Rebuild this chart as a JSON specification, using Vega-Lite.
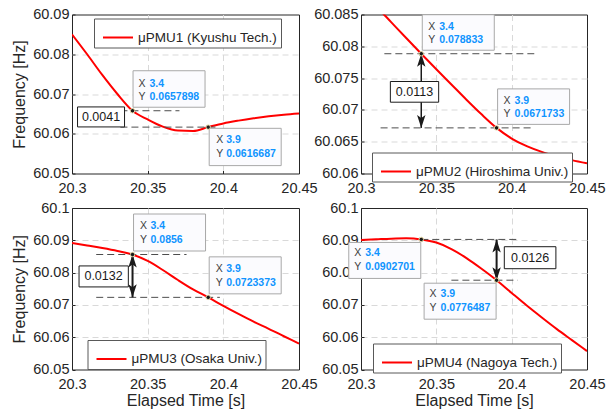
{
  "$schema": "https://vega.github.io/schema/vega-lite/v6.json",
  "padding": {"left": 11, "top": 5.5, "right": 5, "bottom": 5},
  "bounds": "flush",
  "columns": 2,
  "spacing": {"row": 34.5, "column": 62},
  "resolve": {"scale": {"color": "independent"}, "legend": {"color": "independent"}},
  "config": {
    "font": "Liberation Sans",
    "view": {"stroke": "#262626", "strokeWidth": 1},
    "axis": {
      "grid": true, "gridColor": "#d9d9d9", "gridDash": [6, 4], "gridWidth": 1,
      "domain": false, "ticks": true, "tickColor": "#262626", "tickSize": -3,
      "labelFont": "Liberation Sans", "labelFontSize": 14.5, "labelColor": "#262626",
      "labelFlush": false, "labelOverlap": false, "labelSeparation": 0, "labelBound": false,
      "titleFont": "Liberation Sans", "titleFontSize": 16, "titleFontWeight": "normal",
      "titleColor": "#262626"
    },
    "axisQuantitative": {"labelOverlap": false},
    "axisX": {"labelPadding": 11, "titlePadding": 1},
    "axisY": {"labelPadding": 6, "titlePadding": 5, "labelOverlap": false},
    "legend": {
      "orient": "none", "symbolType": "stroke", "symbolStrokeWidth": 2, "symbolSize": 900,
      "labelFont": "Liberation Sans", "labelFontSize": 13.5, "labelColor": "#262626",
      "labelOffset": 4, "symbolOffset": 5, "padding": 3,
      "strokeColor": "#595959", "fillColor": "#ffffff"
    }
  },
  "datasets": {
    "pmu1": [
      {"t": 20.30, "f": 60.0850}, {"t": 20.31, "f": 60.0800}, {"t": 20.32, "f": 60.0748},
      {"t": 20.33, "f": 60.0700}, {"t": 20.34, "f": 60.0657898}, {"t": 20.35, "f": 60.0636},
      {"t": 20.36, "f": 60.0618}, {"t": 20.37, "f": 60.0608}, {"t": 20.38, "f": 60.0607},
      {"t": 20.39, "f": 60.0616687}, {"t": 20.40, "f": 60.0626}, {"t": 20.41, "f": 60.0633},
      {"t": 20.42, "f": 60.0639}, {"t": 20.43, "f": 60.0644}, {"t": 20.44, "f": 60.0648},
      {"t": 20.45, "f": 60.0651}
    ],
    "pmu2": [
      {"t": 20.30, "f": 60.0887}, {"t": 20.31, "f": 60.0863}, {"t": 20.32, "f": 60.0838},
      {"t": 20.33, "f": 60.0813}, {"t": 20.34, "f": 60.078833}, {"t": 20.35, "f": 60.0764},
      {"t": 20.36, "f": 60.0740}, {"t": 20.37, "f": 60.0716}, {"t": 20.38, "f": 60.0693},
      {"t": 20.39, "f": 60.0671733}, {"t": 20.40, "f": 60.0655}, {"t": 20.41, "f": 60.0643},
      {"t": 20.42, "f": 60.0634}, {"t": 20.43, "f": 60.0627}, {"t": 20.44, "f": 60.0621},
      {"t": 20.45, "f": 60.0616}
    ],
    "pmu3": [
      {"t": 20.30, "f": 60.0892}, {"t": 20.31, "f": 60.0884}, {"t": 20.32, "f": 60.0876},
      {"t": 20.33, "f": 60.0867}, {"t": 20.34, "f": 60.0856}, {"t": 20.35, "f": 60.0836},
      {"t": 20.36, "f": 60.0808}, {"t": 20.37, "f": 60.0777}, {"t": 20.38, "f": 60.0748},
      {"t": 20.39, "f": 60.0723373}, {"t": 20.40, "f": 60.0697}, {"t": 20.41, "f": 60.0672},
      {"t": 20.42, "f": 60.0648}, {"t": 20.43, "f": 60.0626}, {"t": 20.44, "f": 60.0603},
      {"t": 20.45, "f": 60.0580}
    ],
    "pmu4": [
      {"t": 20.30, "f": 60.0901}, {"t": 20.31, "f": 60.0903}, {"t": 20.32, "f": 60.0905},
      {"t": 20.33, "f": 60.0906}, {"t": 20.34, "f": 60.0902701}, {"t": 20.35, "f": 60.0893},
      {"t": 20.36, "f": 60.0873}, {"t": 20.37, "f": 60.0845}, {"t": 20.38, "f": 60.0812},
      {"t": 20.39, "f": 60.0776487}, {"t": 20.40, "f": 60.0737}, {"t": 20.41, "f": 60.0698},
      {"t": 20.42, "f": 60.0661}, {"t": 20.43, "f": 60.0625}, {"t": 20.44, "f": 60.0591},
      {"t": 20.45, "f": 60.0557}
    ],
    "tips": [
      {"p": 1, "t": 20.34, "f": 60.0657898, "xs": "3.4", "ys": "0.0657898"},
      {"p": 1, "t": 20.39, "f": 60.0616687, "xs": "3.9", "ys": "0.0616687"},
      {"p": 2, "t": 20.34, "f": 60.078833, "xs": "3.4", "ys": "0.078833"},
      {"p": 2, "t": 20.39, "f": 60.0671733, "xs": "3.9", "ys": "0.0671733"},
      {"p": 3, "t": 20.34, "f": 60.0856, "xs": "3.4", "ys": "0.0856"},
      {"p": 3, "t": 20.39, "f": 60.0723373, "xs": "3.9", "ys": "0.0723373"},
      {"p": 4, "t": 20.34, "f": 60.0902701, "xs": "3.4", "ys": "0.0902701"},
      {"p": 4, "t": 20.39, "f": 60.0776487, "xs": "3.9", "ys": "0.0776487"}
    ],
    "dims": [
      {"p": 1, "t0": 20.332, "t1": 20.371, "f": 60.0657898},
      {"p": 1, "t0": 20.332, "t1": 20.396, "f": 60.0616687},
      {"p": 2, "t0": 20.3155, "t1": 20.415, "f": 60.078833},
      {"p": 2, "t0": 20.313, "t1": 20.4126, "f": 60.0671733},
      {"p": 3, "t0": 20.316, "t1": 20.3757, "f": 60.0856},
      {"p": 3, "t0": 20.316, "t1": 20.3977, "f": 60.0723373},
      {"p": 4, "t0": 20.34, "t1": 20.4053, "f": 60.0902701},
      {"p": 4, "t0": 20.36, "t1": 20.404, "f": 60.0776487}
    ],
    "gaps": [
      {"p": 1, "t": 20.34, "hi": 60.0657898, "lo": 60.0616687, "d": "0.0041"},
      {"p": 2, "t": 20.34, "hi": 60.078833, "lo": 60.0671733, "d": "0.0113"},
      {"p": 3, "t": 20.34, "hi": 60.0856, "lo": 60.0723373, "d": "0.0132"},
      {"p": 4, "t": 20.39, "hi": 60.0902701, "lo": 60.0776487, "d": "0.0126"}
    ]
  },
  "concat": [
    {
      "width": 227, "height": 159,
      "layer": [
        {
          "data": {"name": "pmu1"},
          "mark": {"type": "line", "color": "#ff0000", "strokeWidth": 2, "interpolate": "monotone", "clip": true},
          "encoding": {
            "x": {"field": "t", "type": "quantitative", "scale": {"domain": [20.3, 20.45], "nice": false, "zero": false},
                  "axis": {"title": null, "values": [20.3, 20.35, 20.4, 20.45], "format": "~g", "labelOverlap": false,
                           "gridOpacity": {"condition": {"test": "datum.value < 20.301 || datum.value > 20.449", "value": 0}, "value": 1}}},
            "y": {"field": "f", "type": "quantitative", "scale": {"domain": [60.05, 60.09], "nice": false, "zero": false},
                  "axis": {"title": "Frequency [Hz]", "values": [60.05, 60.06, 60.07, 60.08, 60.09], "format": "~g", "labelOverlap": false, "tickCount": 5,
                           "gridOpacity": {"condition": {"test": "datum.value < 60.0501 || datum.value > 60.0899", "value": 0}, "value": 1}}},
            "color": {"datum": "μPMU1 (Kyushu Tech.)", "type": "nominal", "scale": {"range": ["#ff0000"]},
                      "legend": {"title": null, "legendX": 22, "legendY": 4}}
          }
        },
        {
          "data": {"name": "dims"}, "transform": [{"filter": "datum.p == 1"}],
          "mark": {"type": "rule", "stroke": "#4d4d4d", "strokeDash": [7, 4], "strokeWidth": 1},
          "encoding": {"x": {"field": "t0", "type": "quantitative"}, "x2": {"field": "t1"}, "y": {"field": "f", "type": "quantitative"}}
        },
        {
          "data": {"name": "gaps"}, "transform": [{"filter": "datum.p == 1"}, {"calculate": "(datum.hi + datum.lo) / 2", "as": "f"}],
          "mark": {"type": "point", "shape": "M-5.5,-1.2L-0.8,-1.2L-0.8,0.8L-5.5,0.8Z", "size": 400, "filled": true, "fill": "#ffffff", "stroke": "#1a1a1a", "strokeWidth": 1, "opacity": 1},
          "encoding": {"x": {"field": "t", "type": "quantitative"}, "y": {"field": "f", "type": "quantitative"}}
        },
        {
          "data": {"name": "gaps"}, "transform": [{"filter": "datum.p == 1"}, {"calculate": "(datum.hi + datum.lo) / 2", "as": "f"}],
          "mark": {"type": "text", "align": "center", "baseline": "middle", "dx": -31.5, "dy": -2, "fontSize": 12.5, "color": "#1a1a1a"},
          "encoding": {"x": {"field": "t", "type": "quantitative"}, "y": {"field": "f", "type": "quantitative"}, "text": {"field": "d"}}
        },
        {
          "data": {"name": "tips"}, "transform": [{"filter": "datum.p == 1 && datum.t < 20.36"}],
          "mark": {"type": "point", "shape": "M0.05,-4L7.25,-4L7.25,-0.35L0.05,-0.35Z", "size": 400, "filled": true, "fill": "#fbfbfe", "stroke": "#a8a8a8", "strokeWidth": 1, "opacity": 1},
          "encoding": {"x": {"field": "t", "type": "quantitative"}, "y": {"field": "f", "type": "quantitative"}}
        },
        {
          "data": {"name": "tips"}, "transform": [{"filter": "datum.p == 1 && datum.t < 20.36"}],
          "mark": {"type": "text", "text": "X", "align": "left", "baseline": "middle", "dx": 6, "dy": -27, "fontSize": 10.5, "color": "#404040"},
          "encoding": {"x": {"field": "t", "type": "quantitative"}, "y": {"field": "f", "type": "quantitative"}}
        },
        {
          "data": {"name": "tips"}, "transform": [{"filter": "datum.p == 1 && datum.t < 20.36"}],
          "mark": {"type": "text", "text": "Y", "align": "left", "baseline": "middle", "dx": 6, "dy": -13.5, "fontSize": 10.5, "color": "#404040"},
          "encoding": {"x": {"field": "t", "type": "quantitative"}, "y": {"field": "f", "type": "quantitative"}}
        },
        {
          "data": {"name": "tips"}, "transform": [{"filter": "datum.p == 1 && datum.t < 20.36"}],
          "mark": {"type": "text", "align": "left", "baseline": "middle", "dx": 17, "dy": -27, "fontSize": 10.5, "fontWeight": "bold", "color": "#0f94ff"},
          "encoding": {"x": {"field": "t", "type": "quantitative"}, "y": {"field": "f", "type": "quantitative"}, "text": {"field": "xs"}}
        },
        {
          "data": {"name": "tips"}, "transform": [{"filter": "datum.p == 1 && datum.t < 20.36"}],
          "mark": {"type": "text", "align": "left", "baseline": "middle", "dx": 17, "dy": -13.5, "fontSize": 10.5, "fontWeight": "bold", "color": "#0f94ff"},
          "encoding": {"x": {"field": "t", "type": "quantitative"}, "y": {"field": "f", "type": "quantitative"}, "text": {"field": "ys"}}
        },
        {
          "data": {"name": "tips"}, "transform": [{"filter": "datum.p == 1 && datum.t > 20.36"}],
          "mark": {"type": "point", "shape": "M0.1,0.12L7.3,0.12L7.3,3.85L0.1,3.85Z", "size": 400, "filled": true, "fill": "#fbfbfe", "stroke": "#a8a8a8", "strokeWidth": 1, "opacity": 1},
          "encoding": {"x": {"field": "t", "type": "quantitative"}, "y": {"field": "f", "type": "quantitative"}}
        },
        {
          "data": {"name": "tips"}, "transform": [{"filter": "datum.p == 1 && datum.t > 20.36"}],
          "mark": {"type": "text", "text": "X", "align": "left", "baseline": "middle", "dx": 8, "dy": 12.5, "fontSize": 10.5, "color": "#404040"},
          "encoding": {"x": {"field": "t", "type": "quantitative"}, "y": {"field": "f", "type": "quantitative"}}
        },
        {
          "data": {"name": "tips"}, "transform": [{"filter": "datum.p == 1 && datum.t > 20.36"}],
          "mark": {"type": "text", "text": "Y", "align": "left", "baseline": "middle", "dx": 8, "dy": 27, "fontSize": 10.5, "color": "#404040"},
          "encoding": {"x": {"field": "t", "type": "quantitative"}, "y": {"field": "f", "type": "quantitative"}}
        },
        {
          "data": {"name": "tips"}, "transform": [{"filter": "datum.p == 1 && datum.t > 20.36"}],
          "mark": {"type": "text", "align": "left", "baseline": "middle", "dx": 18, "dy": 12.5, "fontSize": 10.5, "fontWeight": "bold", "color": "#0f94ff"},
          "encoding": {"x": {"field": "t", "type": "quantitative"}, "y": {"field": "f", "type": "quantitative"}, "text": {"field": "xs"}}
        },
        {
          "data": {"name": "tips"}, "transform": [{"filter": "datum.p == 1 && datum.t > 20.36"}],
          "mark": {"type": "text", "align": "left", "baseline": "middle", "dx": 18, "dy": 27, "fontSize": 10.5, "fontWeight": "bold", "color": "#0f94ff"},
          "encoding": {"x": {"field": "t", "type": "quantitative"}, "y": {"field": "f", "type": "quantitative"}, "text": {"field": "ys"}}
        },
        {
          "data": {"name": "tips"}, "transform": [{"filter": "datum.p == 1"}],
          "mark": {"type": "point", "shape": "circle", "size": 20, "filled": true, "fill": "#1a1a1a", "stroke": "#e6d9a8", "strokeWidth": 1, "opacity": 1},
          "encoding": {"x": {"field": "t", "type": "quantitative"}, "y": {"field": "f", "type": "quantitative"}}
        }
      ]
    },
    {
      "width": 226, "height": 159,
      "layer": [
        {
          "data": {"name": "pmu2"},
          "mark": {"type": "line", "color": "#ff0000", "strokeWidth": 2, "interpolate": "monotone", "clip": true},
          "encoding": {
            "x": {"field": "t", "type": "quantitative", "scale": {"domain": [20.3, 20.45], "nice": false, "zero": false},
                  "axis": {"title": null, "values": [20.3, 20.35, 20.4, 20.45], "format": "~g", "labelOverlap": false,
                           "gridOpacity": {"condition": {"test": "datum.value < 20.301 || datum.value > 20.449", "value": 0}, "value": 1}}},
            "y": {"field": "f", "type": "quantitative", "scale": {"domain": [60.06, 60.085], "nice": false, "zero": false},
                  "axis": {"title": null, "values": [60.06, 60.065, 60.07, 60.075, 60.08, 60.085], "format": "~g", "labelOverlap": false, "tickCount": 6,
                           "gridOpacity": {"condition": {"test": "datum.value < 60.0601 || datum.value > 60.0849", "value": 0}, "value": 1}}},
            "color": {"datum": "μPMU2 (Hiroshima Univ.)", "type": "nominal", "scale": {"range": ["#ff0000"]},
                      "legend": {"title": null, "legendX": 11, "legendY": 138}}
          }
        },
        {
          "data": {"name": "dims"}, "transform": [{"filter": "datum.p == 2"}],
          "mark": {"type": "rule", "stroke": "#4d4d4d", "strokeDash": [7, 4], "strokeWidth": 1},
          "encoding": {"x": {"field": "t0", "type": "quantitative"}, "x2": {"field": "t1"}, "y": {"field": "f", "type": "quantitative"}}
        },
        {
          "data": {"name": "gaps"}, "transform": [{"filter": "datum.p == 2"}],
          "mark": {"type": "rule", "stroke": "#1a1a1a", "strokeWidth": 1.5},
          "encoding": {"x": {"field": "t", "type": "quantitative"}, "y": {"field": "hi", "type": "quantitative"}, "y2": {"field": "lo"}}
        },
        {
          "data": {"name": "gaps"}, "transform": [{"filter": "datum.p == 2"}],
          "mark": {"type": "point", "shape": "M0,0L0.42,1.3L0,1.0L-0.42,1.3Z", "size": 400, "filled": true, "fill": "#1a1a1a", "strokeWidth": 0, "opacity": 1},
          "encoding": {"x": {"field": "t", "type": "quantitative"}, "y": {"field": "hi", "type": "quantitative"}}
        },
        {
          "data": {"name": "gaps"}, "transform": [{"filter": "datum.p == 2"}],
          "mark": {"type": "point", "shape": "M0,0L0.42,-1.3L0,-1.0L-0.42,-1.3Z", "size": 400, "filled": true, "fill": "#1a1a1a", "strokeWidth": 0, "opacity": 1},
          "encoding": {"x": {"field": "t", "type": "quantitative"}, "y": {"field": "lo", "type": "quantitative"}}
        },
        {
          "data": {"name": "gaps"}, "transform": [{"filter": "datum.p == 2"}, {"calculate": "(datum.hi + datum.lo) / 2", "as": "f"}],
          "mark": {"type": "point", "shape": "M-3.09,-0.93L1.74,-0.93L1.74,1.14L-3.09,1.14Z", "size": 400, "filled": true, "fill": "#ffffff", "stroke": "#1a1a1a", "strokeWidth": 1, "opacity": 1},
          "encoding": {"x": {"field": "t", "type": "quantitative"}, "y": {"field": "f", "type": "quantitative"}}
        },
        {
          "data": {"name": "gaps"}, "transform": [{"filter": "datum.p == 2"}, {"calculate": "(datum.hi + datum.lo) / 2", "as": "f"}],
          "mark": {"type": "text", "align": "center", "baseline": "middle", "dx": -6.8, "dy": 1.2, "fontSize": 12.5, "color": "#1a1a1a"},
          "encoding": {"x": {"field": "t", "type": "quantitative"}, "y": {"field": "f", "type": "quantitative"}, "text": {"field": "d"}}
        },
        {
          "data": {"name": "tips"}, "transform": [{"filter": "datum.p == 2"}],
          "mark": {"type": "point", "shape": "M0.1,-3.9L7.3,-3.9L7.3,-0.35L0.1,-0.35Z", "size": 400, "filled": true, "fill": "#fbfbfe", "stroke": "#a8a8a8", "strokeWidth": 1, "opacity": 1},
          "encoding": {"x": {"field": "t", "type": "quantitative"}, "y": {"field": "f", "type": "quantitative"}}
        },
        {
          "data": {"name": "tips"}, "transform": [{"filter": "datum.p == 2"}],
          "mark": {"type": "text", "text": "X", "align": "left", "baseline": "middle", "dx": 7, "dy": -27, "fontSize": 10.5, "color": "#404040"},
          "encoding": {"x": {"field": "t", "type": "quantitative"}, "y": {"field": "f", "type": "quantitative"}}
        },
        {
          "data": {"name": "tips"}, "transform": [{"filter": "datum.p == 2"}],
          "mark": {"type": "text", "text": "Y", "align": "left", "baseline": "middle", "dx": 7, "dy": -13.5, "fontSize": 10.5, "color": "#404040"},
          "encoding": {"x": {"field": "t", "type": "quantitative"}, "y": {"field": "f", "type": "quantitative"}}
        },
        {
          "data": {"name": "tips"}, "transform": [{"filter": "datum.p == 2"}],
          "mark": {"type": "text", "align": "left", "baseline": "middle", "dx": 18, "dy": -27, "fontSize": 10.5, "fontWeight": "bold", "color": "#0f94ff"},
          "encoding": {"x": {"field": "t", "type": "quantitative"}, "y": {"field": "f", "type": "quantitative"}, "text": {"field": "xs"}}
        },
        {
          "data": {"name": "tips"}, "transform": [{"filter": "datum.p == 2"}],
          "mark": {"type": "text", "align": "left", "baseline": "middle", "dx": 18, "dy": -13.5, "fontSize": 10.5, "fontWeight": "bold", "color": "#0f94ff"},
          "encoding": {"x": {"field": "t", "type": "quantitative"}, "y": {"field": "f", "type": "quantitative"}, "text": {"field": "ys"}}
        },
        {
          "data": {"name": "tips"}, "transform": [{"filter": "datum.p == 2"}],
          "mark": {"type": "point", "shape": "circle", "size": 20, "filled": true, "fill": "#1a1a1a", "stroke": "#e6d9a8", "strokeWidth": 1, "opacity": 1},
          "encoding": {"x": {"field": "t", "type": "quantitative"}, "y": {"field": "f", "type": "quantitative"}}
        }
      ]
    },
    {
      "width": 227, "height": 161.5,
      "layer": [
        {
          "data": {"name": "pmu3"},
          "mark": {"type": "line", "color": "#ff0000", "strokeWidth": 2, "interpolate": "monotone", "clip": true},
          "encoding": {
            "x": {"field": "t", "type": "quantitative", "scale": {"domain": [20.3, 20.45], "nice": false, "zero": false},
                  "axis": {"title": "Elapsed Time [s]", "values": [20.3, 20.35, 20.4, 20.45], "format": "~g", "labelOverlap": false,
                           "gridOpacity": {"condition": {"test": "datum.value < 20.301 || datum.value > 20.449", "value": 0}, "value": 1}}},
            "y": {"field": "f", "type": "quantitative", "scale": {"domain": [60.05, 60.1], "nice": false, "zero": false},
                  "axis": {"title": "Frequency [Hz]", "values": [60.05, 60.06, 60.07, 60.08, 60.09, 60.1], "format": "~g", "labelOverlap": false, "tickCount": 6,
                           "gridOpacity": {"condition": {"test": "datum.value < 60.0501 || datum.value > 60.0999", "value": 0}, "value": 1}}},
            "color": {"datum": "μPMU3 (Osaka Univ.)", "type": "nominal", "scale": {"range": ["#ff0000"]},
                      "legend": {"title": null, "legendX": 15.5, "legendY": 132}}
          }
        },
        {
          "data": {"name": "dims"}, "transform": [{"filter": "datum.p == 3"}],
          "mark": {"type": "rule", "stroke": "#4d4d4d", "strokeDash": [7, 4], "strokeWidth": 1},
          "encoding": {"x": {"field": "t0", "type": "quantitative"}, "x2": {"field": "t1"}, "y": {"field": "f", "type": "quantitative"}}
        },
        {
          "data": {"name": "gaps"}, "transform": [{"filter": "datum.p == 3"}],
          "mark": {"type": "rule", "stroke": "#1a1a1a", "strokeWidth": 2},
          "encoding": {"x": {"field": "t", "type": "quantitative"}, "y": {"field": "hi", "type": "quantitative"}, "y2": {"field": "lo"}}
        },
        {
          "data": {"name": "gaps"}, "transform": [{"filter": "datum.p == 3"}],
          "mark": {"type": "point", "shape": "M0,0L0.42,1.3L0,1.0L-0.42,1.3Z", "size": 400, "filled": true, "fill": "#1a1a1a", "strokeWidth": 0, "opacity": 1},
          "encoding": {"x": {"field": "t", "type": "quantitative"}, "y": {"field": "hi", "type": "quantitative"}}
        },
        {
          "data": {"name": "gaps"}, "transform": [{"filter": "datum.p == 3"}],
          "mark": {"type": "point", "shape": "M0,0L0.42,-1.3L0,-1.0L-0.42,-1.3Z", "size": 400, "filled": true, "fill": "#1a1a1a", "strokeWidth": 0, "opacity": 1},
          "encoding": {"x": {"field": "t", "type": "quantitative"}, "y": {"field": "lo", "type": "quantitative"}}
        },
        {
          "data": {"name": "gaps"}, "transform": [{"filter": "datum.p == 3"}, {"calculate": "(datum.hi + datum.lo) / 2", "as": "f"}],
          "mark": {"type": "point", "shape": "M-5.35,-1.0L-0.42,-1.0L-0.42,1.1L-5.35,1.1Z", "size": 400, "filled": true, "fill": "#ffffff", "stroke": "#1a1a1a", "strokeWidth": 1, "opacity": 1},
          "encoding": {"x": {"field": "t", "type": "quantitative"}, "y": {"field": "f", "type": "quantitative"}}
        },
        {
          "data": {"name": "gaps"}, "transform": [{"filter": "datum.p == 3"}, {"calculate": "(datum.hi + datum.lo) / 2", "as": "f"}],
          "mark": {"type": "text", "align": "center", "baseline": "middle", "dx": -29, "dy": 0.5, "fontSize": 12.5, "color": "#1a1a1a"},
          "encoding": {"x": {"field": "t", "type": "quantitative"}, "y": {"field": "f", "type": "quantitative"}, "text": {"field": "d"}}
        },
        {
          "data": {"name": "tips"}, "transform": [{"filter": "datum.p == 3"}],
          "mark": {"type": "point", "shape": "M0.1,-4.05L7.3,-4.05L7.3,-0.35L0.1,-0.35Z", "size": 400, "filled": true, "fill": "#fbfbfe", "stroke": "#a8a8a8", "strokeWidth": 1, "opacity": 1},
          "encoding": {"x": {"field": "t", "type": "quantitative"}, "y": {"field": "f", "type": "quantitative"}}
        },
        {
          "data": {"name": "tips"}, "transform": [{"filter": "datum.p == 3"}],
          "mark": {"type": "text", "text": "X", "align": "left", "baseline": "middle", "dx": 7.5, "dy": -28.5, "fontSize": 10.5, "color": "#404040"},
          "encoding": {"x": {"field": "t", "type": "quantitative"}, "y": {"field": "f", "type": "quantitative"}}
        },
        {
          "data": {"name": "tips"}, "transform": [{"filter": "datum.p == 3"}],
          "mark": {"type": "text", "text": "Y", "align": "left", "baseline": "middle", "dx": 7.5, "dy": -14.5, "fontSize": 10.5, "color": "#404040"},
          "encoding": {"x": {"field": "t", "type": "quantitative"}, "y": {"field": "f", "type": "quantitative"}}
        },
        {
          "data": {"name": "tips"}, "transform": [{"filter": "datum.p == 3"}],
          "mark": {"type": "text", "align": "left", "baseline": "middle", "dx": 18, "dy": -28.5, "fontSize": 10.5, "fontWeight": "bold", "color": "#0f94ff"},
          "encoding": {"x": {"field": "t", "type": "quantitative"}, "y": {"field": "f", "type": "quantitative"}, "text": {"field": "xs"}}
        },
        {
          "data": {"name": "tips"}, "transform": [{"filter": "datum.p == 3"}],
          "mark": {"type": "text", "align": "left", "baseline": "middle", "dx": 18, "dy": -14.5, "fontSize": 10.5, "fontWeight": "bold", "color": "#0f94ff"},
          "encoding": {"x": {"field": "t", "type": "quantitative"}, "y": {"field": "f", "type": "quantitative"}, "text": {"field": "ys"}}
        },
        {
          "data": {"name": "tips"}, "transform": [{"filter": "datum.p == 3"}],
          "mark": {"type": "point", "shape": "circle", "size": 20, "filled": true, "fill": "#1a1a1a", "stroke": "#e6d9a8", "strokeWidth": 1, "opacity": 1},
          "encoding": {"x": {"field": "t", "type": "quantitative"}, "y": {"field": "f", "type": "quantitative"}}
        }
      ]
    },
    {
      "width": 226, "height": 161.5,
      "layer": [
        {
          "data": {"name": "pmu4"},
          "mark": {"type": "line", "color": "#ff0000", "strokeWidth": 2, "interpolate": "monotone", "clip": true},
          "encoding": {
            "x": {"field": "t", "type": "quantitative", "scale": {"domain": [20.3, 20.45], "nice": false, "zero": false},
                  "axis": {"title": "Elapsed Time [s]", "values": [20.3, 20.35, 20.4, 20.45], "format": "~g", "labelOverlap": false,
                           "gridOpacity": {"condition": {"test": "datum.value < 20.301 || datum.value > 20.449", "value": 0}, "value": 1}}},
            "y": {"field": "f", "type": "quantitative", "scale": {"domain": [60.05, 60.1], "nice": false, "zero": false},
                  "axis": {"title": null, "values": [60.05, 60.06, 60.07, 60.08, 60.09, 60.1], "format": "~g", "labelOverlap": false, "tickCount": 6,
                           "gridOpacity": {"condition": {"test": "datum.value < 60.0501 || datum.value > 60.0999", "value": 0}, "value": 1}}},
            "color": {"datum": "μPMU4 (Nagoya Tech.)", "type": "nominal", "scale": {"range": ["#ff0000"]},
                      "legend": {"title": null, "legendX": 12, "legendY": 135.5}}
          }
        },
        {
          "data": {"name": "dims"}, "transform": [{"filter": "datum.p == 4"}],
          "mark": {"type": "rule", "stroke": "#4d4d4d", "strokeDash": [7, 4], "strokeWidth": 1},
          "encoding": {"x": {"field": "t0", "type": "quantitative"}, "x2": {"field": "t1"}, "y": {"field": "f", "type": "quantitative"}}
        },
        {
          "data": {"name": "gaps"}, "transform": [{"filter": "datum.p == 4"}],
          "mark": {"type": "rule", "stroke": "#1a1a1a", "strokeWidth": 2},
          "encoding": {"x": {"field": "t", "type": "quantitative"}, "y": {"field": "hi", "type": "quantitative"}, "y2": {"field": "lo"}}
        },
        {
          "data": {"name": "gaps"}, "transform": [{"filter": "datum.p == 4"}],
          "mark": {"type": "point", "shape": "M0,0L0.42,1.3L0,1.0L-0.42,1.3Z", "size": 400, "filled": true, "fill": "#1a1a1a", "strokeWidth": 0, "opacity": 1},
          "encoding": {"x": {"field": "t", "type": "quantitative"}, "y": {"field": "hi", "type": "quantitative"}}
        },
        {
          "data": {"name": "gaps"}, "transform": [{"filter": "datum.p == 4"}],
          "mark": {"type": "point", "shape": "M0,0L0.42,-1.3L0,-1.0L-0.42,-1.3Z", "size": 400, "filled": true, "fill": "#1a1a1a", "strokeWidth": 0, "opacity": 1},
          "encoding": {"x": {"field": "t", "type": "quantitative"}, "y": {"field": "lo", "type": "quantitative"}}
        },
        {
          "data": {"name": "gaps"}, "transform": [{"filter": "datum.p == 4"}, {"calculate": "(datum.hi + datum.lo) / 2", "as": "f"}],
          "mark": {"type": "point", "shape": "M0.77,-1.31L5.93,-1.31L5.93,0.89L0.77,0.89Z", "size": 400, "filled": true, "fill": "#ffffff", "stroke": "#1a1a1a", "strokeWidth": 1, "opacity": 1},
          "encoding": {"x": {"field": "t", "type": "quantitative"}, "y": {"field": "f", "type": "quantitative"}}
        },
        {
          "data": {"name": "gaps"}, "transform": [{"filter": "datum.p == 4"}, {"calculate": "(datum.hi + datum.lo) / 2", "as": "f"}],
          "mark": {"type": "text", "align": "center", "baseline": "middle", "dx": 33.5, "dy": -2, "fontSize": 12.5, "color": "#1a1a1a"},
          "encoding": {"x": {"field": "t", "type": "quantitative"}, "y": {"field": "f", "type": "quantitative"}, "text": {"field": "d"}}
        },
        {
          "data": {"name": "tips"}, "transform": [{"filter": "datum.p == 4"}],
          "mark": {"type": "point", "shape": "M-7.25,0.3L-0.05,0.3L-0.05,3.9L-7.25,3.9Z", "size": 400, "filled": true, "fill": "#fbfbfe", "stroke": "#a8a8a8", "strokeWidth": 1, "opacity": 1},
          "encoding": {"x": {"field": "t", "type": "quantitative"}, "y": {"field": "f", "type": "quantitative"}}
        },
        {
          "data": {"name": "tips"}, "transform": [{"filter": "datum.p == 4"}],
          "mark": {"type": "text", "text": "X", "align": "left", "baseline": "middle", "dx": -67, "dy": 14, "fontSize": 10.5, "color": "#404040"},
          "encoding": {"x": {"field": "t", "type": "quantitative"}, "y": {"field": "f", "type": "quantitative"}}
        },
        {
          "data": {"name": "tips"}, "transform": [{"filter": "datum.p == 4"}],
          "mark": {"type": "text", "text": "Y", "align": "left", "baseline": "middle", "dx": -67, "dy": 27.5, "fontSize": 10.5, "color": "#404040"},
          "encoding": {"x": {"field": "t", "type": "quantitative"}, "y": {"field": "f", "type": "quantitative"}}
        },
        {
          "data": {"name": "tips"}, "transform": [{"filter": "datum.p == 4"}],
          "mark": {"type": "text", "align": "left", "baseline": "middle", "dx": -56, "dy": 14, "fontSize": 10.5, "fontWeight": "bold", "color": "#0f94ff"},
          "encoding": {"x": {"field": "t", "type": "quantitative"}, "y": {"field": "f", "type": "quantitative"}, "text": {"field": "xs"}}
        },
        {
          "data": {"name": "tips"}, "transform": [{"filter": "datum.p == 4"}],
          "mark": {"type": "text", "align": "left", "baseline": "middle", "dx": -56, "dy": 27.5, "fontSize": 10.5, "fontWeight": "bold", "color": "#0f94ff"},
          "encoding": {"x": {"field": "t", "type": "quantitative"}, "y": {"field": "f", "type": "quantitative"}, "text": {"field": "ys"}}
        },
        {
          "data": {"name": "tips"}, "transform": [{"filter": "datum.p == 4"}],
          "mark": {"type": "point", "shape": "circle", "size": 20, "filled": true, "fill": "#1a1a1a", "stroke": "#e6d9a8", "strokeWidth": 1, "opacity": 1},
          "encoding": {"x": {"field": "t", "type": "quantitative"}, "y": {"field": "f", "type": "quantitative"}}
        }
      ]
    }
  ]
}
